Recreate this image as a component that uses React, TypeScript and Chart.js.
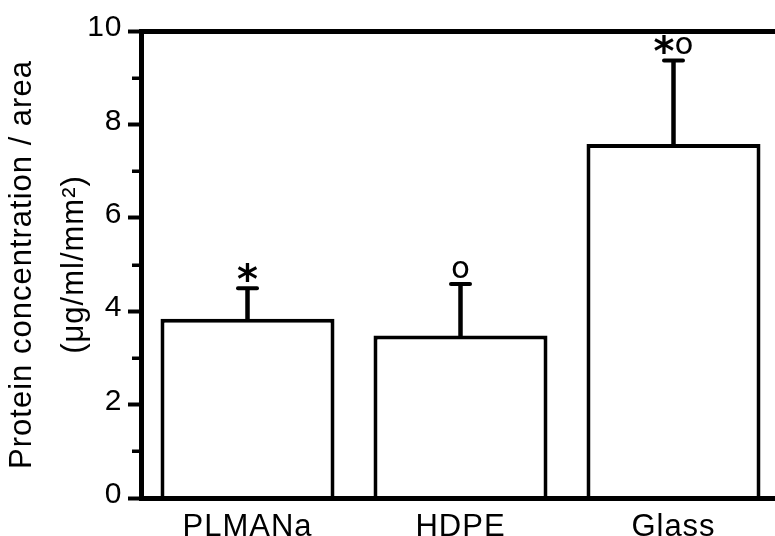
import React, { useEffect, useRef } from 'react';
import { Chart, registerables } from 'chart.js';

Chart.register(...registerables);

const categories = ['PLMANa', 'HDPE', 'Glass'];
const means = [3.84, 3.48, 7.58];
const errorsPlus = [0.65, 1.1, 1.79];
const markers = ['*', 'o', '*o'];
const yMinorTicks = [1, 3, 5, 7, 9];
const yTitle = ['Protein concentration / area', '(μg/ml/mm²)'];

const FONT = "'Liberation Sans', Arial, Helvetica, sans-serif";

const spacingPlugin = {
  id: 'spacing',
  beforeDraw(chart: any) {
    chart.ctx.letterSpacing = '1px';
  },
};

const minorTickPlugin = {
  id: 'minorTicks',
  afterDraw(chart: any) {
    const ctx = chart.ctx;
    const y = chart.scales.y;
    const left = chart.chartArea.left;
    ctx.save();
    ctx.strokeStyle = '#000';
    ctx.lineWidth = 3.5;
    yMinorTicks.forEach((v) => {
      const py = Math.round(y.getPixelForValue(v)) + 0.25;
      ctx.beginPath();
      ctx.moveTo(left - 9, py);
      ctx.lineTo(left, py);
      ctx.stroke();
    });
    ctx.restore();
  },
};

const errorPlugin = {
  id: 'errorBars',
  afterDatasetsDraw(chart: any) {
    const ctx = chart.ctx;
    const y = chart.scales.y;
    const meta = chart.getDatasetMeta(0);
    ctx.save();
    ctx.letterSpacing = '0px';
    ctx.strokeStyle = '#000';
    ctx.fillStyle = '#000';
    meta.data.forEach((bar: any, i: number) => {
      const top = y.getPixelForValue(means[i] + errorsPlus[i]);
      ctx.beginPath();
      ctx.lineCap = 'butt';
      ctx.lineWidth = 4.5;
      ctx.moveTo(bar.x, bar.y + 2);
      ctx.lineTo(bar.x, top);
      ctx.stroke();
      ctx.beginPath();
      ctx.lineCap = 'round';
      ctx.lineWidth = 4;
      ctx.moveTo(bar.x - 9.5, top);
      ctx.lineTo(bar.x + 9.5, top);
      ctx.stroke();

      const chars = markers[i].split('');
      const fonts = chars.map((c) => (c === '*' ? "bold 40px 'DejaVu Sans'" : "31px 'DejaVu Sans'"));
      const widths = chars.map((c, k) => {
        ctx.font = fonts[k];
        return ctx.measureText(c).width;
      });
      const total = widths.reduce((a, b) => a + b, 0);
      let x = bar.x - total / 2;
      const bottom = top - 6;
      chars.forEach((c, k) => {
        ctx.font = fonts[k];
        ctx.textAlign = 'left';
        ctx.textBaseline = 'alphabetic';
        const m = ctx.measureText(c);
        ctx.fillText(c, x, bottom - m.actualBoundingBoxDescent);
        x += widths[k];
      });
    });
    ctx.restore();
  },
};

export default function App() {
  const ref = useRef<HTMLCanvasElement>(null);

  useEffect(() => {
    if (!ref.current) return;
    Chart.defaults.font.family = FONT;
    Chart.defaults.color = '#000';
    const chart = new Chart(ref.current, {
      type: 'bar',
      data: {
        labels: categories,
        datasets: [
          {
            data: means,
            backgroundColor: '#ffffff',
            borderColor: '#000000',
            borderWidth: 4,
            borderSkipped: 'start',
            barPercentage: 0.817,
            categoryPercentage: 1,
          },
        ],
      },
      options: {
        responsive: false,
        animation: false,
        devicePixelRatio: 1,
        layout: { padding: 0 },
        plugins: {
          legend: { display: false },
          tooltip: { enabled: false },
        },
        scales: {
          x: {
            type: 'category',
            position: 'bottom',
            offset: true,
            grid: { display: false },
            border: { display: true, color: '#000', width: 5, z: 1 },
            ticks: { font: { size: 31 }, color: '#000', padding: 3, maxRotation: 0 },
            afterFit(scale: any) {
              scale.height = 38;
            },
          },
          x2: {
            type: 'linear',
            position: 'top',
            min: 0,
            max: 1,
            grid: { display: false },
            border: { display: true, color: '#000', width: 5, z: 1 },
            ticks: { display: false },
            afterFit(scale: any) {
              scale.height = 31;
            },
          },
          y: {
            type: 'linear',
            position: 'left',
            min: 0,
            max: 10,
            ticks: {
              stepSize: 2,
              font: { size: 30 },
              color: '#000',
              padding: 5.5,
              labelOffset: -3,
            },
            grid: {
              display: true,
              drawOnChartArea: false,
              drawTicks: true,
              tickLength: 13,
              tickWidth: 4,
              tickColor: '#000',
              color: '#000',
            },
            border: { display: true, color: '#000', width: 5, z: 1 },
            title: {
              display: true,
              text: yTitle,
              color: '#000',
              font: { size: 31, lineHeight: 1.67 },
              padding: { top: -3.25, bottom: 0 },
            },
            afterFit(scale: any) {
              scale.width = 141;
            },
          },
        },
      },
      plugins: [spacingPlugin, errorPlugin, minorTickPlugin],
    } as any);
    return () => chart.destroy();
  }, []);

  return (
    <div style={{ position: 'absolute', left: 0, top: 0, width: 775, height: 536, overflow: 'hidden', background: '#fff' }}>
      <canvas ref={ref} width={780} height={536} style={{ display: 'block' }} />
    </div>
  );
}
